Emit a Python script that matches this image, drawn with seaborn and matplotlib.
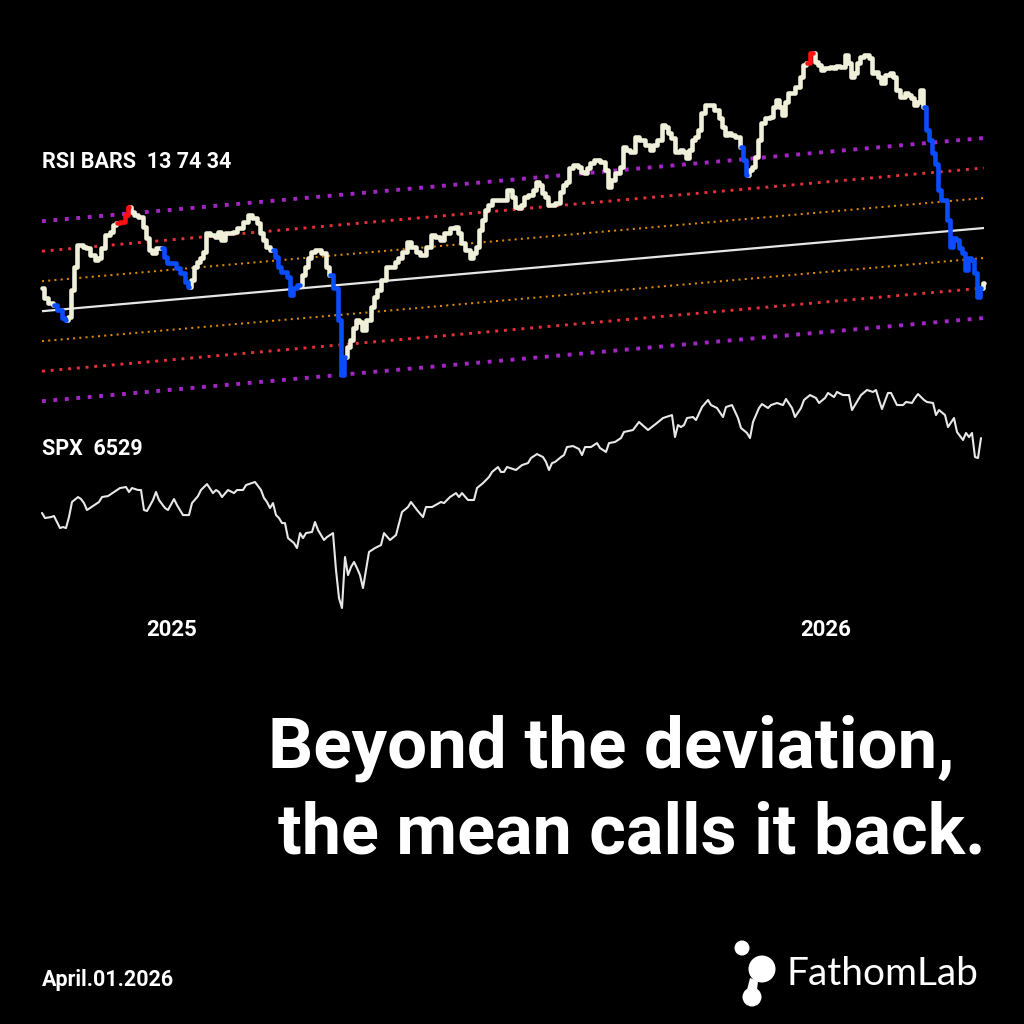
import numpy as np
import pandas as pd
import matplotlib
matplotlib.use('Agg')
import matplotlib.pyplot as plt
import seaborn as sns
from matplotlib.patches import Circle, Polygon

# RSI bar closes (bar index, level)
rsi_day = [0, 1, 3, 4, 6, 7, 8, 9, 10, 11, 12, 13, 14, 15, 17, 18, 19, 20, 22, 23, 24, 25, 27, 28, 29, 30,
           31, 33, 34, 35, 36, 37, 39, 40, 41, 42, 44, 45, 47, 48, 49, 50, 51, 52, 53, 54, 55, 57, 58, 59,
           60, 62, 63, 64, 66, 68, 69, 71, 72, 73, 74, 75, 77, 78, 79, 80, 81, 82, 83, 84, 86, 87, 88, 89,
           90, 92, 94, 95, 96, 98, 99, 100, 101, 102, 103, 104, 105, 106, 107, 109, 110, 111, 112, 114,
           115, 117, 118, 119, 121, 122, 124, 125, 127, 129, 130, 132, 133, 135, 137, 138, 139, 140, 142,
           143, 144, 145, 146, 147, 148, 149, 151, 153, 154, 156, 157, 158, 159, 160, 161, 163, 164, 165,
           166, 167, 168, 169, 170, 172, 173, 174, 175, 176, 178, 179, 180, 181, 182, 183, 185, 187, 188,
           189, 190, 192, 193, 194, 195, 197, 198, 200, 202, 203, 204, 206, 207, 208, 209, 210, 212, 213,
           214, 215, 216, 217, 218, 219, 220, 222, 223, 225, 226, 227, 228, 229, 230, 232, 233, 234, 235,
           236, 237, 238, 239, 240, 242, 243, 244, 245, 246, 247, 248, 249, 250, 252, 253, 254, 255, 257,
           258, 259, 260, 261, 262, 263, 264, 265, 267, 268, 269, 270, 271, 272, 273, 275, 276, 277, 278,
           279, 280, 282, 283, 284, 285, 287, 288, 289, 290, 291, 292, 293, 294, 295, 296, 297, 298, 299,
           300, 301, 302, 303, 304, 305, 306, 307, 308, 309, 310, 311, 312, 313, 314]
rsi_val = [28.0, 25.5, 24.2, 23.8, 22.5, 20.5, 20.0, 20.8, 27.5, 33.2, 38.8, 38.8, 38.2, 38.0, 36.2, 35.0,
           35.5, 38.0, 41.2, 42.0, 43.8, 44.2, 44.5, 46.2, 48.2, 47.0, 46.2, 45.8, 43.2, 40.5, 37.5, 36.8,
           38.0, 38.0, 35.8, 34.2, 34.2, 33.0, 31.8, 29.5, 28.2, 30.0, 33.2, 34.5, 35.5, 37.0, 41.8, 41.2,
           40.8, 42.0, 40.0, 41.8, 41.8, 42.0, 43.0, 44.5, 46.2, 45.5, 44.2, 41.8, 40.0, 38.2, 37.5, 35.8,
           33.2, 32.0, 32.0, 30.8, 26.2, 28.0, 28.8, 31.2, 33.2, 35.5, 37.0, 37.5, 36.8, 33.2, 31.2, 28.0,
           20.0, 6.2, 10.8, 13.2, 15.0, 18.0, 20.0, 19.5, 17.5, 20.0, 23.2, 25.8, 27.5, 30.0, 33.2, 33.2,
           34.5, 35.5, 37.0, 39.5, 38.2, 37.0, 36.2, 38.2, 41.2, 40.8, 40.0, 41.8, 43.0, 43.2, 41.8, 39.2,
           37.5, 35.5, 36.8, 38.2, 42.5, 45.0, 47.5, 48.8, 50.0, 50.0, 50.0, 52.5, 50.8, 48.2, 48.0, 48.8,
           50.8, 51.2, 52.5, 54.5, 53.8, 51.8, 50.8, 48.8, 48.8, 49.2, 52.0, 53.8, 54.5, 58.0, 58.8, 58.2,
           57.0, 56.8, 58.0, 59.2, 60.0, 59.5, 57.5, 53.2, 55.0, 56.8, 58.2, 63.2, 62.5, 62.0, 65.8, 65.0,
           63.8, 62.5, 63.8, 65.0, 68.8, 68.2, 66.8, 65.5, 62.0, 62.5, 62.0, 60.5, 62.5, 65.0, 65.8, 67.5,
           71.8, 73.8, 73.8, 72.5, 70.5, 68.2, 66.2, 66.8, 66.2, 65.8, 63.2, 60.0, 56.2, 57.5, 58.2, 60.8,
           65.0, 69.2, 70.5, 70.8, 73.2, 75.0, 73.2, 71.2, 74.5, 76.8, 76.8, 78.2, 80.8, 83.8, 84.2, 86.8,
           84.5, 83.8, 82.5, 83.0, 83.0, 83.2, 83.0, 83.5, 83.2, 86.2, 84.2, 80.8, 81.8, 84.2, 85.8, 86.2,
           85.5, 81.8, 82.0, 80.8, 79.2, 81.2, 81.8, 80.8, 77.5, 75.8, 76.8, 76.2, 75.5, 73.8, 74.5, 77.5,
           73.2, 67.5, 65.0, 61.8, 59.0, 52.5, 50.0, 50.0, 45.0, 38.2, 40.5, 40.0, 38.0, 36.8, 32.5, 35.5,
           35.0, 31.8, 25.8, 28.0, 29.2]
# bars coloured as oversold / overbought
blue_spans = [(6, 8), (41, 49), (78, 86), (98, 101), (234, 235), (295, 313)]
red_spans = [(27, 29), (257, 257)]

# regression channel
mid_start, mid_end = 22.2, 43.0
band_step = 7.5
channel_days = [0, 314]

# SPX closes
spx_day = [0, 1, 3, 4, 5, 6, 7, 8, 9, 10, 12, 13, 14, 15, 17, 19, 20, 22, 24, 26, 28, 29, 30, 32, 33, 34,
           35, 37, 38, 39, 41, 42, 44, 45, 46, 47, 49, 50, 52, 53, 55, 57, 58, 59, 60, 62, 64, 65, 67, 68,
           70, 71, 73, 74, 75, 76, 77, 78, 79, 80, 81, 82, 84, 85, 86, 87, 88, 90, 91, 92, 94, 95, 97, 98,
           99, 100, 101, 102, 103, 104, 105, 106, 107, 108, 109, 111, 113, 114, 116, 118, 120, 122, 123,
           125, 127, 128, 130, 133, 134, 136, 138, 139, 140, 142, 144, 145, 147, 149, 150, 152, 153, 154,
           155, 157, 158, 160, 162, 163, 165, 167, 168, 169, 170, 171, 173, 174, 175, 177, 179, 180, 181,
           183, 185, 186, 188, 189, 191, 193, 194, 197, 199, 202, 205, 207, 210, 211, 212, 213, 214, 215,
           217, 218, 220, 222, 223, 225, 227, 228, 230, 232, 233, 235, 236, 237, 239, 240, 242, 243, 245,
           247, 248, 250, 251, 253, 254, 256, 258, 259, 261, 262, 264, 265, 267, 269, 270, 272, 273, 275,
           277, 278, 279, 280, 282, 283, 285, 287, 288, 290, 291, 292, 294, 295, 297, 298, 299, 301, 302,
           304, 305, 307, 308, 309, 310, 311, 312, 313]
spx_val = [5847, 5801, 5810, 5819, 5765, 5710, 5719, 5710, 5810, 5947, 5992, 5974, 5937, 5874, 5910, 5947,
           5992, 6001, 6038, 6074, 6083, 6038, 6074, 6056, 6056, 5874, 5865, 5965, 6038, 5965, 5892, 5874,
           5974, 5919, 5874, 5828, 5828, 5937, 6001, 6056, 6110, 6028, 6056, 6038, 5992, 6056, 6028, 6056,
           6056, 6101, 6119, 6129, 6056, 5983, 5947, 5892, 5937, 5828, 5801, 5755, 5755, 5619, 5573, 5528,
           5664, 5619, 5664, 5674, 5765, 5692, 5601, 5628, 5664, 5328, 5073, 4982, 5446, 5282, 5355, 5401,
           5346, 5282, 5164, 5328, 5492, 5528, 5555, 5664, 5601, 5646, 5856, 5901, 5947, 5874, 5810, 5901,
           5901, 5947, 5937, 5992, 6028, 5992, 6028, 5965, 5965, 6074, 6119, 6174, 6220, 6265, 6220, 6220,
           6265, 6247, 6238, 6283, 6301, 6347, 6383, 6356, 6311, 6238, 6301, 6311, 6356, 6374, 6447, 6456,
           6429, 6374, 6447, 6447, 6483, 6438, 6402, 6483, 6493, 6529, 6584, 6602, 6675, 6602, 6666, 6711,
           6738, 6538, 6647, 6629, 6647, 6711, 6720, 6693, 6811, 6875, 6829, 6802, 6720, 6811, 6829, 6711,
           6620, 6575, 6529, 6675, 6802, 6838, 6802, 6829, 6848, 6829, 6884, 6802, 6720, 6802, 6875, 6920,
           6893, 6848, 6893, 6939, 6902, 6948, 6920, 6920, 6784, 6875, 6920, 6966, 6948, 6966, 6875, 6793,
           6939, 6939, 6829, 6829, 6857, 6848, 6893, 6929, 6875, 6857, 6848, 6738, 6784, 6738, 6629, 6711,
           6584, 6511, 6575, 6538, 6575, 6356, 6347, 6529]

year_pos = [43.3, 261.3]
year_labels = ['2025', '2026']

sns.set_theme(style='dark', rc={'figure.facecolor': 'black', 'axes.facecolor': 'none',
                                'text.color': 'white', 'xtick.color': 'white'})
plt.rcParams['font.family'] = ['Roboto', 'DejaVu Sans']

fig = plt.figure(figsize=(10.24, 10.24), dpi=100)
fig.patch.set_facecolor('black')

ax = fig.add_axes([30 / 1024, 1 - 410 / 1024, 966 / 1024, 370 / 1024])
ax2 = fig.add_axes([30 / 1024, 1 - 612 / 1024, 966 / 1024, 232 / 1024])

# ---- RSI panel ----
def state_of(d):
    for a, b in blue_spans:
        if a <= d <= b:
            return 'blue'
    for a, b in red_spans:
        if a <= d <= b:
            return 'red'
    return 'norm'

rows = []
run = 0
prev = None
for d, v in zip(rsi_day, rsi_val):
    s = state_of(d)
    if prev is not None and s != prev[2]:
        run += 1
        rows.append({'day': prev[0], 'rsi': prev[1], 'state': s, 'run': run})
    rows.append({'day': d, 'rsi': v, 'state': s, 'run': run})
    prev = (d, v, s)
df = pd.DataFrame(rows)

palette = {'norm': '#f0f0da', 'blue': '#0a4dff', 'red': '#ff1010'}

# channel lines
mid = np.array([mid_start, mid_end])
ax.plot(channel_days, mid, color='#e6e6e6', lw=1.6, solid_capstyle='butt', zorder=2)
bands = [(1, '#e08a00', 1.45, (0, (1, 2.1))),
         (2, '#e8303a', 2.1, (0, (1, 2.0))),
         (3, '#a326c4', 2.8, (0, (1, 1.95)))]
for k, col, lw, ls in bands:
    for sgn in (1, -1):
        ax.plot(channel_days, mid + sgn * k * band_step, color=col, lw=lw,
                linestyle=ls, dash_capstyle='butt', zorder=1)

sns.lineplot(data=df, x='day', y='rsi', hue='state', units='run', estimator=None,
             palette=palette, sort=False, legend=False, ax=ax, lw=3.3,
             drawstyle='steps-mid', zorder=3)

ax.set_xlim(-4, 318)
ax.set_ylim(-2.5, 90)
ax.axis('off')

# ---- SPX panel ----
sns.lineplot(x=spx_day, y=spx_val, ax=ax2, color='#e8e8e8', lw=1.5, estimator=None)
ax2.set_xlim(-4, 318)
ax2.set_ylim(4946, 7057)
ax2.set_yticks([])
ax2.set_xticks(year_pos)
ax2.set_xticklabels(year_labels, fontsize=16, fontweight='bold', color='white')
ax2.tick_params(axis='x', length=0, pad=5)
ax2.set_xlabel('')
ax2.set_ylabel('')
ax2.grid(False)
for sp in ax2.spines.values():
    sp.set_visible(False)

# ---- text ----
def fy(py):
    return 1 - py / 1024

fig.text(42 / 1024, fy(162), 'RSI BARS  13 74 34', fontsize=15.5, fontweight='bold',
         color='white', va='center', ha='left')
fig.text(42 / 1024, fy(449), 'SPX  6529', fontsize=15.5, fontweight='bold',
         color='white', va='center', ha='left')
fig.text(268 / 1024, fy(768), 'Beyond the deviation,', fontsize=51, fontweight='bold',
         color='white', va='baseline', ha='left')
fig.text(278 / 1024, fy(853), 'the mean calls it back.', fontsize=50.5, fontweight='bold',
         color='white', va='baseline', ha='left')
fig.text(42 / 1024, fy(980), 'April.01.2026', fontsize=15.5, fontweight='bold',
         color='white', va='center', ha='left')

# logo
logo = [((742, 948), 7.5), ((762, 969), 13.5), ((752, 997), 9.5)]
for (cx, cy), r in logo:
    fig.add_artist(Circle((cx / 1024, fy(cy)), r / 1024, transform=fig.transFigure,
                          color='white', lw=0))
neck = [(750, 978), (758, 981), (757, 990), (747, 990)]
fig.add_artist(Polygon([(x / 1024, fy(y)) for x, y in neck], closed=True,
                       transform=fig.transFigure, color='white', lw=0))
fig.text(787 / 1024, fy(985), 'FathomLab', fontsize=28, fontweight='normal',
         family=['Lato', 'Open Sans', 'DejaVu Sans'], color='white', va='baseline', ha='left')

fig.savefig('out.png', dpi=100, facecolor='black')
